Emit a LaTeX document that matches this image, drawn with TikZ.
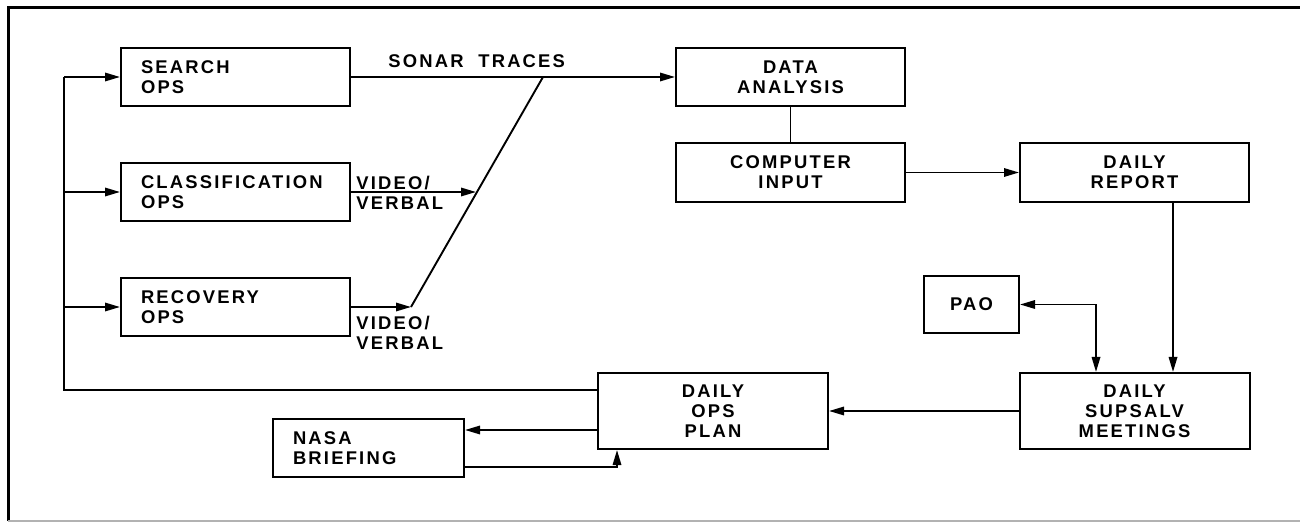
\documentclass[tikz,border=0pt]{standalone}
\usepackage{fontspec}
\newfontfamily\lbl[LetterSpace=12]{Liberation Sans}
\usetikzlibrary{arrows.meta}
\tikzset{
  lab/.style={font=\lbl\bfseries\fontsize{9.2}{9.9}\selectfont, inner sep=0pt},
  box/.style={draw, line width=1pt, lab, align=center},
  lbox/.style={box, align=left, inner xsep=10pt, inner ysep=0pt},
  ln/.style={line width=0.95pt},
  arr/.style={ln, -{Triangle[length=7.5pt,width=4.2pt]}},
  dbl/.style={ln, {Triangle[length=7.5pt,width=4.2pt]}-{Triangle[length=7.5pt,width=4.2pt]}}
}
\begin{document}
\begin{tikzpicture}[x=0.5pt,y=-0.5pt]
\useasboundingbox (0,0) rectangle (1300,523);
% frame
\draw[line width=1.5pt] (1300,8) -- (8,8) -- (8,521);
\draw[black!30, line width=1pt] (8,521) -- (1300,521);

% boxes
\node[lbox, text width=94.5pt, minimum height=29pt] (search) at (235.5,77) {SEARCH\\OPS};
\node[lbox, text width=94.5pt, minimum height=29pt] (class) at (235.5,192) {CLASSIFICATION\\OPS};
\node[lbox, text width=94.5pt, minimum height=29pt] (recov) at (235.5,307) {RECOVERY\\OPS};
\node[box, minimum width=114.5pt, minimum height=29pt] (data) at (790.5,77) {DATA\\ANALYSIS};
\node[box, minimum width=114.5pt, minimum height=29.5pt] (comp) at (790.5,172.5) {COMPUTER\\INPUT};
\node[box, minimum width=114.5pt, minimum height=29.5pt] (report) at (1134.5,172.5) {DAILY\\REPORT};
\node[box, minimum width=47.5pt, minimum height=28.5pt] (pao) at (971.5,304.5) {PAO};
\node[box, minimum width=115pt, minimum height=38pt] (supsalv) at (1134.5,411) {DAILY\\SUPSALV\\MEETINGS};
\node[box, minimum width=115pt, minimum height=38pt] (plan) at (713,411) {DAILY\\OPS\\PLAN};
\node[lbox, text width=75.5pt, minimum height=29pt] (nasa) at (368.5,448) {NASA\\BRIEFING};

% labels
\node[lab, anchor=base west] (sonar) at (388,68) {SONAR\ \ TRACES};
\node[lab, anchor=west, align=left] (vv1) at (356,193) {VIDEO/\\VERBAL};
\node[lab, anchor=north west, align=left] (vv2) at (356,316) {VIDEO/\\VERBAL};

% sonar / video connectors
\coordinate (j) at (543,77);
\coordinate (c) at (476,192);
\coordinate (r) at (411,307);
\draw[arr] (search.east) -- (data.west);
\draw[ln] (r) -- (j);
\draw[arr] (class.east) -- (c);
\draw[arr] (recov.east) -- (r);

% right side
\draw[ln] (data.south) -- (comp.north);
\draw[arr] (comp.east) -- (report.west);
\draw[arr] (report.south -| 1173,0) -- (supsalv.north -| 1173,0);
\draw[dbl] (pao.east) -| (supsalv.north -| 1096,0);
\draw[arr] (supsalv.west) -- (plan.east);

% feedback loop
\coordinate (f0) at (64,390);
\coordinate (f1) at (64,77);
\coordinate (f2) at (64,192);
\coordinate (f3) at (64,307);
\draw[ln] (plan.west |- f0) -- (f0) -- (f1);
\draw[arr] (f1) -- (search.west);
\draw[arr] (f2) -- (class.west);
\draw[arr] (f3) -- (recov.west);

% NASA
\draw[arr] (plan.west |- 0,430) -- (nasa.east |- 0,430);
\draw[arr] (nasa.east |- 0,467) -| (plan.south -| 617,0);
\end{tikzpicture}
\end{document}
